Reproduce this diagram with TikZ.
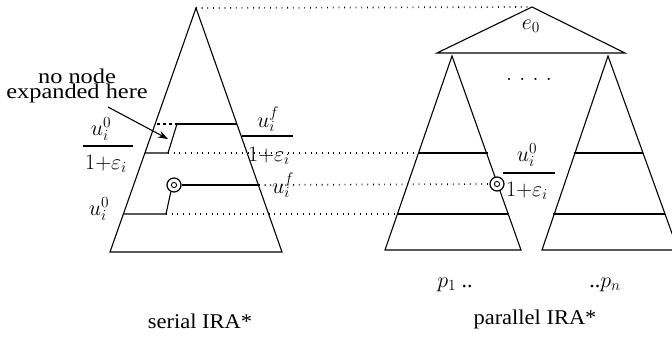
\RequirePackage{fix-cm}
\documentclass[tikz,border=0pt]{standalone}
\usepackage{fontspec}
\setmainfont{Liberation Serif}
\usetikzlibrary{arrows.meta}
\newcommand{\widetext}[1]{\scalebox{1.16}[1]{#1}}
\newcommand{\titletext}[1]{\scalebox{1.07}[1]{#1}}
\begin{document}
\begin{tikzpicture}[x=1pt,y=-1pt, line width=1.1pt,
  dotline/.style={line width=1.7pt, dash pattern=on 0.8pt off 4.9pt},
  dashline/.style={line width=1.1pt, dash pattern=on 3pt off 3pt},
  lbl/.style={inner sep=0pt, font=\fontsize{21}{12.5}\selectfont},
  mlbl/.style={inner sep=0pt, font=\fontsize{22}{22}\selectfont},
  ringnode/.style={draw, circle, inner sep=0pt, minimum size=14pt, line width=1.2pt},
  ]
\useasboundingbox (0,0) rectangle (672,340);
\clip (0,0) rectangle (672,340);

% ---------- serial tree ----------
\coordinate (sA) at (196,8);
\coordinate (sBL) at (110,252);
\coordinate (sBR) at (282,252);
\draw (sBL) -- (sA) -- (sBR) -- cycle;

\coordinate (sL1) at (157,124);
\coordinate (sK1) at (177,124);
\coordinate (sR1) at (237,124);
\draw[dashline] (sL1) -- (sK1);
\draw (sK1) -- (sR1);
\coordinate (sL2) at (145,153);
\coordinate (sK2) at (168,153);
\draw (sL2) -- (sK2) -- (sK1);

\node[ringnode] (sN) at (174,185) {};
\draw[line width=0.9pt] (sN.center) circle (2.6pt);
\coordinate (sR3) at (259,185);
\draw (sN) -- (sR3);
\coordinate (sK4) at (166,214);
\coordinate (sL4) at (124,214);
\draw (sN.-115) -- (sK4) -- (sL4);

% labels serial
\node[lbl, align=center] (nonode) at (77,86) {\widetext{no node}\\\widetext{expanded here}};
\coordinate (arrS) at (108,107);
\coordinate (arrE) at (168,139);
\draw[-{Stealth[length=10pt,width=7pt]}] (arrS) -- (arrE);

\node[mlbl] (lu0a) at (101,129) {$u_i^0$};
\draw (83,146) -- (133,146);
\node[mlbl] (leps) at (106,164) {$1{+}\varepsilon_i$};

\node[mlbl] (ruf) at (268,119) {$u_i^f$};
\draw (242,136) -- (293,136);
\node[mlbl] (reps) at (269,156) {$1{+}\varepsilon_i$};

\node[mlbl] (ruf2) at (283,185) {$u_i^f$};
\node[mlbl] (lu0b) at (99,209) {$u_i^0$};

\node[lbl] (stitle) at (200,321) {\titletext{serial IRA*}};

% ---------- parallel ----------
\coordinate (pA) at (532,7);
\coordinate (pBL) at (437,53);
\coordinate (pBR) at (625,53);
\draw (pBL) -- (pA) -- (pBR) -- cycle;
\node[mlbl] (e0) at (531,26) {$e_0$};
\node[mlbl] (dots) at (529,79) {$.\,\,.\,\,.\,\,.$};

% left subtree
\coordinate (lA) at (452,56);
\coordinate (lBL) at (385,250);
\coordinate (lBR) at (521,250);
\draw (lBL) -- (lA) -- (lBR) -- cycle;
\coordinate (lL2) at (419,153);
\coordinate (lR2) at (488,153);
\draw (lL2) -- (lR2);
\coordinate (lL4) at (397,214);
\coordinate (lR4) at (509,214);
\draw (lL4) -- (lR4);
\node[ringnode, fill=white] (pN) at (497,184) {};
\draw[line width=0.9pt] (pN.center) circle (2.6pt);

% right subtree
\coordinate (rA) at (608,56);
\coordinate (rBL) at (542,250);
\coordinate (rBR) at (678,250);
\draw (rBL) -- (rA) -- (rBR) -- cycle;
\coordinate (rL2) at (574,153);
\coordinate (rR2) at (643,153);
\draw (rL2) -- (rR2);
\coordinate (rL4) at (553,214);
\coordinate (rR4) at (665,214);
\draw (rL4) -- (rR4);

\node[mlbl] (pu0) at (527,155) {$u_i^0$};
\draw (503,173) -- (555,173);
\node[mlbl] (peps) at (527,191) {$1{+}\varepsilon_i$};

\node[mlbl] (p1) at (455,285) {$p_1$ ..};
\node[mlbl] (pn) at (605,285) {..$p_n$};
\node[lbl] (ptitle) at (535,319) {\titletext{parallel IRA*}};

% ---------- dotted correspondences ----------
\draw[dotline] (sA) -- (pA);
\draw[dotline] (sK2) -- (lL2);
\draw[dotline] (sR3) -- (pN.west);
\draw[dotline] (sK4) -- (lL4);
\end{tikzpicture}
\end{document}
